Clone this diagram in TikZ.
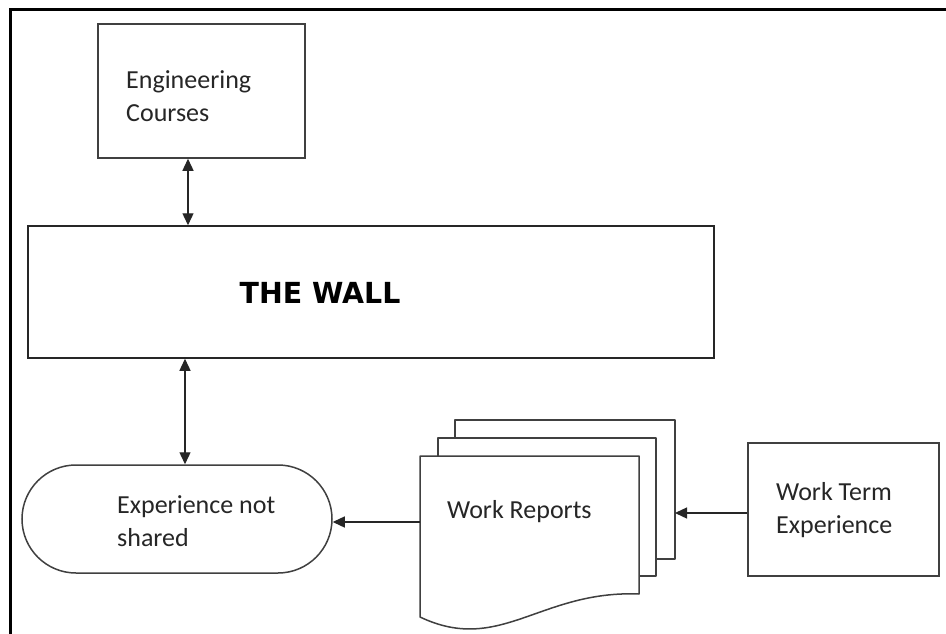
\documentclass[tikz,border=0pt]{standalone}
\usepackage{fontspec}
\setmainfont{Carlito}
\newfontfamily\wallfont{DejaVu Sans}
\usetikzlibrary{arrows.meta,calc}
\begin{document}
\begin{tikzpicture}[x=1pt,y=-1pt,
  box/.style={draw=black!75,line width=1.5pt,fill=white,inner sep=0pt},
  lbl/.style={font=\fontsize{26}{33}\selectfont,align=left,inner sep=0pt,text=black!85},
  arr/.style={line width=1.3pt,black!85,-{Triangle[length=12pt,width=11pt]}},
  darr/.style={line width=1.3pt,black!85,{Triangle[length=12pt,width=11pt]}-{Triangle[length=12pt,width=11pt]}},
  page/.style={draw=black!75,line width=1.5pt,fill=white,line join=round}]
\useasboundingbox (0,0) rectangle (946,634);
\fill[white] (0,0) rectangle (946,634);
% outer frame
\draw[line width=3pt,black] (10,640) -- (10,10) -- (952,10);
% Engineering courses
\node[box,minimum width=207pt,minimum height=134pt] (ec) at (201.5,91) {};
\node[lbl,anchor=west] (ect) at (126,96) {Engineering\\Courses};
% Wall
\node[box,draw=black!85,minimum width=686pt,minimum height=132pt] (wall) at (371,292) {};
\node[inner sep=0pt,font=\wallfont\bfseries\fontsize{29}{30}\selectfont,xscale=0.98] (wallt) at (320,293) {THE WALL};
% Experience not shared
\node[box,rounded corners=54pt,minimum width=310pt,minimum height=108pt] (exp) at (177,519) {};
\node[lbl,anchor=west] (expt) at (117,521) {Experience not\\shared};
% Work reports pages
\draw[page] (455,420) rectangle (675,559);
\draw[page] (438,438) rectangle (656,576);
\draw[page] (420,456) -- (639,456) -- (639,594)
  .. controls (540,590) and (500,655) .. (420,617) -- cycle;
\node[lbl,anchor=west] (wr) at (447,512) {Work Reports};
\coordinate (wrin) at (420,522);
\coordinate (wrback) at (675,513);
% Work term experience
\node[box,minimum width=191pt,minimum height=133pt] (wt) at (843.5,509.5) {};
\node[lbl,anchor=west] (wtt) at (776,510) {Work Term\\Experience};
% connectors
\draw[darr] ([xshift=-13.5pt]ec.south) -- ([xshift=-13.5pt]ec.south |- wall.north);
\draw[darr] ([xshift=8pt]exp.north) -- ([xshift=8pt]exp.north |- wall.south);
\draw[arr] (wrin) -- (wrin -| exp.east);
\draw[arr] (wt.west |- wrback) -- (wrback);
\end{tikzpicture}
\end{document}
